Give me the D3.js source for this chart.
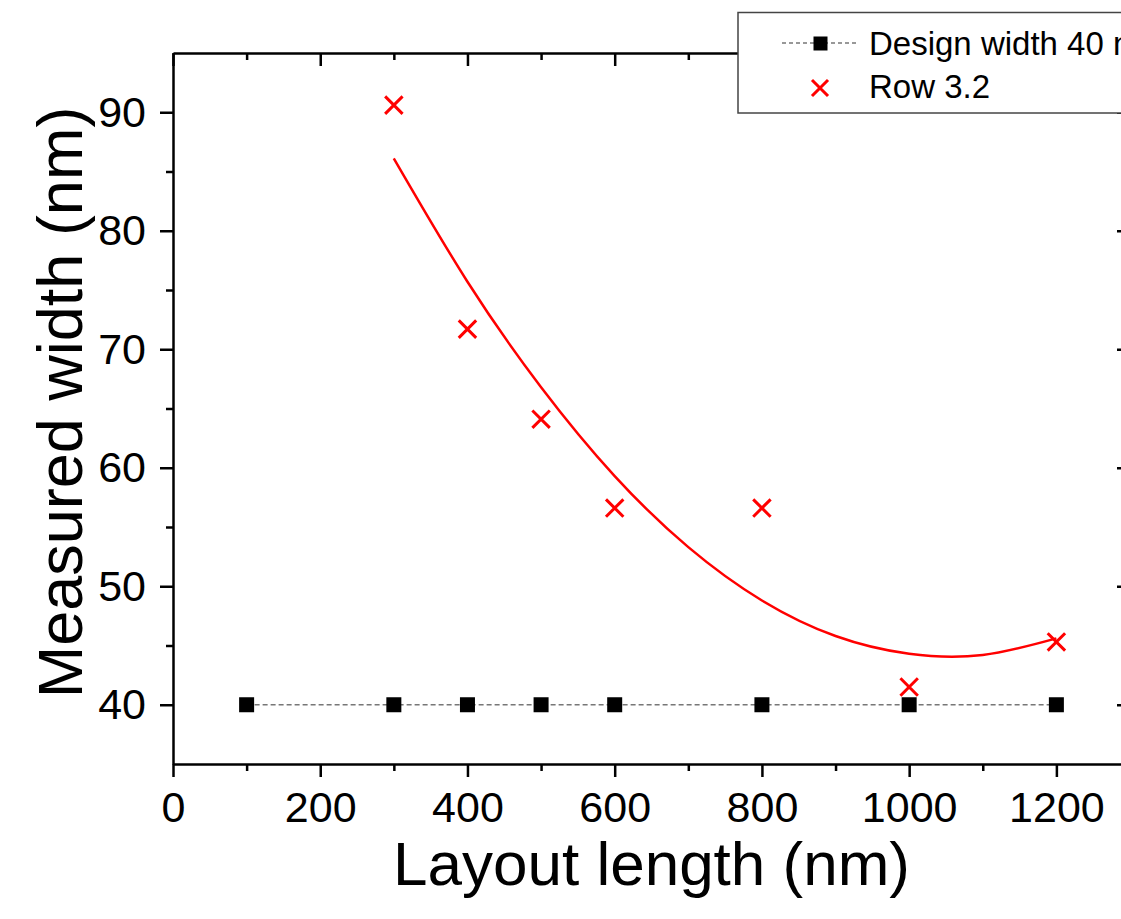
<!DOCTYPE html>
<html>
<head>
<meta charset="utf-8">
<script src="https://cdn.jsdelivr.net/npm/d3@7"></script>
<style>
  html, body { margin: 0; padding: 0; background: #fff; overflow: hidden; }
  svg { display: block; font-family: "Liberation Sans", Arial, sans-serif; }
</style>
</head>
<body>
<svg id="chart"></svg>
<script>
// layout lengths (nm)
const designLength = [100, 300, 400, 500, 600, 800, 1000, 1200];
const designWidth = [40, 40, 40, 40, 40, 40, 40, 40];

const rowLength = [300, 400, 500, 600, 800, 1000, 1200];
const rowWidth = [90.6, 71.7, 64.1, 56.6, 56.6, 41.5, 45.3];

// fitted curve
const fitLength = [300, 400, 500, 600, 700, 800, 900, 1000, 1100, 1200];
const fitWidth = [86.1, 75.7, 66.8, 59.3, 53.3, 48.8, 45.8, 44.3, 44.2, 45.6];

const xTicks = [0, 200, 400, 600, 800, 1000, 1200];
const yTicks = [40, 50, 60, 70, 80, 90];

const width = 1121;
const height = 919;
const margin = { top: 53, right: -9, bottom: 155, left: 173 };

const svg = d3.select("#chart").attr("width", width).attr("height", height);

const x = d3.scaleLinear()
    .domain([0, 1300])
    .range([margin.left, width - margin.right]);

const y = d3.scaleLinear()
    .domain([35, 95])
    .range([height - margin.bottom, margin.top]);

const xMinor = d3.range(100, 1300, 200);
const yMinor = d3.range(45, 95, 10);

function styleAxis(g) {
    g.select(".domain").attr("stroke", "#000").attr("stroke-width", 2.5);
    g.selectAll(".tick line").attr("stroke", "#000").attr("stroke-width", 2.5);
}

// bottom axis
const gx = svg.append("g")
    .attr("transform", `translate(0,${y(35)})`)
    .call(d3.axisBottom(x).tickValues(xTicks).tickFormat(d3.format("d"))
        .tickSize(13).tickSizeOuter(0).tickPadding(14))
    .call(styleAxis);
gx.selectAll(".tick text").attr("font-size", 43).attr("fill", "#000").attr("dy", "0.71em");
svg.append("g")
    .attr("transform", `translate(0,${y(35)})`)
    .call(d3.axisBottom(x).tickValues(xMinor).tickSize(7).tickFormat(""))
    .call(styleAxis)
    .select(".domain").remove();

// top axis (ticks inward)
svg.append("g")
    .attr("transform", `translate(0,${y(95)})`)
    .call(d3.axisBottom(x).tickValues(xTicks).tickSize(13).tickSizeOuter(0).tickFormat(""))
    .call(styleAxis);
svg.append("g")
    .attr("transform", `translate(0,${y(95)})`)
    .call(d3.axisBottom(x).tickValues(xMinor).tickSize(7).tickFormat(""))
    .call(styleAxis)
    .select(".domain").remove();

// left axis
const gy = svg.append("g")
    .attr("transform", `translate(${x(0)},0)`)
    .call(d3.axisLeft(y).tickValues(yTicks).tickSize(13).tickSizeOuter(0).tickPadding(14))
    .call(styleAxis);
gy.selectAll(".tick text").attr("font-size", 43).attr("fill", "#000");
svg.append("g")
    .attr("transform", `translate(${x(0)},0)`)
    .call(d3.axisLeft(y).tickValues(yMinor).tickSize(7).tickFormat(""))
    .call(styleAxis)
    .select(".domain").remove();

// right axis (ticks inward)
svg.append("g")
    .attr("transform", `translate(${x(1300)},0)`)
    .call(d3.axisRight(y).tickValues(yTicks).tickSize(-13).tickSizeOuter(0).tickFormat(""))
    .call(styleAxis);
svg.append("g")
    .attr("transform", `translate(${x(1300)},0)`)
    .call(d3.axisRight(y).tickValues(yMinor).tickSize(-7).tickFormat(""))
    .call(styleAxis)
    .select(".domain").remove();

// axis titles
svg.append("text")
    .attr("x", (x(0) + x(1300)) / 2)
    .attr("y", 885)
    .attr("text-anchor", "middle")
    .attr("font-size", 62)
    .text("Layout length (nm)");

svg.append("text")
    .attr("transform", `translate(82,${(y(35) + y(95)) / 2 - 6}) rotate(-90)`)
    .attr("text-anchor", "middle")
    .attr("font-size", 63)
    .text("Measured width (nm)");

// design width dashed line + squares
const design = designLength.map((d, i) => ({ x: d, y: designWidth[i] }));
svg.append("path")
    .datum(design)
    .attr("fill", "none")
    .attr("stroke", "#777")
    .attr("stroke-width", 1.6)
    .attr("stroke-dasharray", "5,3")
    .attr("d", d3.line().x(d => x(d.x)).y(d => y(d.y)));

svg.append("g")
    .selectAll("rect")
    .data(design)
    .join("rect")
    .attr("x", d => x(d.x) - 7.5)
    .attr("y", d => y(d.y) - 7.5)
    .attr("width", 15)
    .attr("height", 15)
    .attr("fill", "#000");

// fit curve
const fit = fitLength.map((d, i) => ({ x: d, y: fitWidth[i] }));
svg.append("path")
    .datum(fit)
    .attr("fill", "none")
    .attr("stroke", "#f00")
    .attr("stroke-width", 2.5)
    .attr("d", d3.line().curve(d3.curveNatural).x(d => x(d.x)).y(d => y(d.y)));

// row 3.2 crosses
const cross = d3.symbol().type(d3.symbolX).size(200);
const rows = rowLength.map((d, i) => ({ x: d, y: rowWidth[i] }));
svg.append("g")
    .selectAll("path")
    .data(rows)
    .join("path")
    .attr("transform", d => `translate(${x(d.x)},${y(d.y)})`)
    .attr("d", cross)
    .attr("fill", "none")
    .attr("stroke", "#f00")
    .attr("stroke-width", 3);

// legend
const legend = svg.append("g");
legend.append("rect")
    .attr("x", 738).attr("y", 12.5)
    .attr("width", 500).attr("height", 100.5)
    .attr("fill", "#fff")
    .attr("stroke", "#444")
    .attr("stroke-width", 1.5);
legend.append("line")
    .attr("x1", 782).attr("x2", 856).attr("y1", 43).attr("y2", 43)
    .attr("stroke", "#777").attr("stroke-width", 1.6).attr("stroke-dasharray", "4,3");
legend.append("rect")
    .attr("x", 813.5).attr("y", 36.5).attr("width", 14).attr("height", 14)
    .attr("fill", "#000");
legend.append("text")
    .attr("x", 869).attr("y", 55)
    .attr("font-size", 33)
    .text("Design width 40 nm");
legend.append("path")
    .attr("transform", "translate(820,88)")
    .attr("d", d3.symbol().type(d3.symbolX).size(170)())
    .attr("fill", "none").attr("stroke", "#f00").attr("stroke-width", 3);
legend.append("text")
    .attr("x", 869).attr("y", 98)
    .attr("font-size", 33)
    .text("Row 3.2");
</script>
</body>
</html>
